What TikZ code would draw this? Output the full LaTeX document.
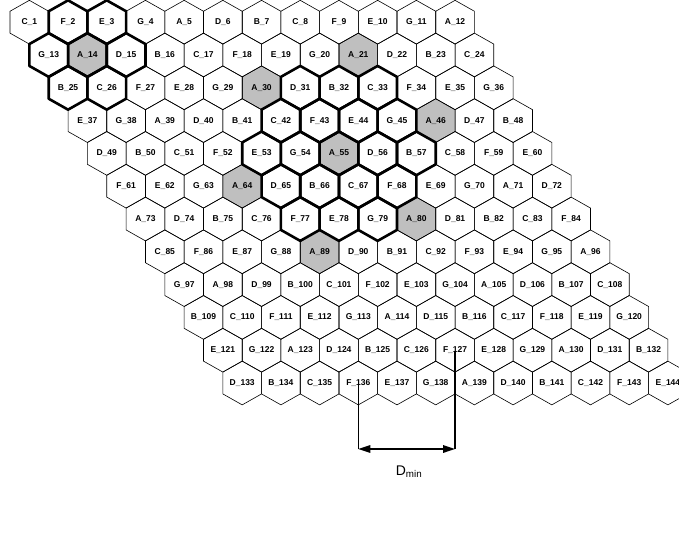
\documentclass[tikz,border=0pt]{standalone}
\usepackage{fontspec}
\setmainfont{Liberation Sans}
\usetikzlibrary{arrows.meta}
\begin{document}
\begin{tikzpicture}[x=1pt,y=-1pt,
  hexthin/.style={draw=black, line width=0.6pt},
  hexthick/.style={draw=black, line width=2.6pt, line join=round},
  graycell/.style={fill=black!25},
  lab/.style={font=\fontsize{8.5}{9}\selectfont\bfseries, inner sep=0pt},
  dimline/.style={line width=1.6pt},
  dimtip/.style={{Triangle[length=12pt,width=7.5pt]}-{Triangle[length=12pt,width=7.5pt]}}
]
\path[use as bounding box] (0,0) rectangle (679,534);
\clip (0,0) rectangle (679,534);
\def\hexshape{(0,-21.87) -- (19.35,-10.93) -- (19.35,10.93) -- (0,21.87) -- (-19.35,10.93) -- (-19.35,-10.93) -- cycle}
% gray cells
\foreach \n in {14,21,30,46,55,64,80,89} {
  \pgfmathtruncatemacro{\r}{int((\n-1)/12)}
  \pgfmathtruncatemacro{\c}{mod(\n-1,12)}
  \pgfmathsetmacro{\lx}{29.35+19.35*\r+38.7*\c}
  \pgfmathsetmacro{\ly}{22.2+32.8*\r}
  \fill[graycell, shift={(\lx,\ly)}] \hexshape;
}
% all cells thin
\foreach \r in {0,...,11} {
  \foreach \c in {0,...,11} {
    \pgfmathsetmacro{\lx}{29.35+19.35*\r+38.7*\c}
    \pgfmathsetmacro{\ly}{22.2+32.8*\r}
    \draw[hexthin, shift={(\lx,\ly)}] \hexshape;
  }
}
% thick cells
\foreach \n in {2,3,13,14,15,25,26,31,32,33,42,43,44,45,53,54,55,56,57,65,66,67,68,77,78,79} {
  \pgfmathtruncatemacro{\r}{int((\n-1)/12)}
  \pgfmathtruncatemacro{\c}{mod(\n-1,12)}
  \pgfmathsetmacro{\lx}{29.35+19.35*\r+38.7*\c}
  \pgfmathsetmacro{\ly}{22.2+32.8*\r}
  \draw[hexthick, shift={(\lx,\ly)}] \hexshape;
}
% labels
\foreach \r in {0,...,11} {
  \foreach \c in {0,...,11} {
    \pgfmathtruncatemacro{\n}{12*\r+\c+1}
    \pgfmathsetmacro{\lx}{29.35+19.35*\r+38.7*\c}
    \pgfmathsetmacro{\ly}{22.2+32.8*\r}
    \pgfmathtruncatemacro{\k}{mod(3*\r+\c,7)}
    \pgfmathsetmacro{\L}{{"C","F","E","G","A","D","B"}[\k]}
    \node[lab] (c\n) at (\lx,\ly) {\L\_\n};
  }
}
% D_min dimension
\coordinate (dimy) at (0,449);
\draw[dimline] ([yshift=-1pt]c136.center) -- (c136.center |- dimy) coordinate (dl);
\draw[dimline] ([yshift=-1pt]c127.center) -- (c127.center |- dimy) coordinate (dr);
\draw[dimline, dimtip] (dl) -- (dr);
\node[font=\fontsize{14}{15}\selectfont, inner sep=0pt] (dmin) at (409,472) {D\textsubscript{min}};
\end{tikzpicture}
\end{document}
